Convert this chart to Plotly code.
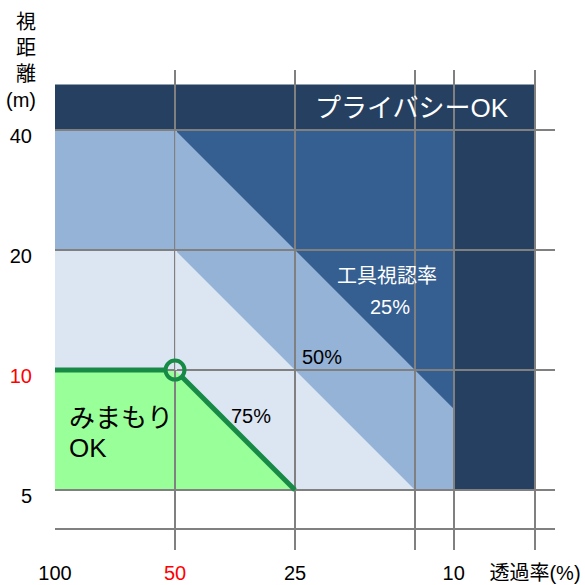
import math
import plotly.graph_objects as go

# 目盛り (透過率 %, 視距離 m)
x_tick_vals = [100, 50, 25, 12.5, 10, 6.25]
x_tick_text = ["100", "<span style='color:#ff0000'>50</span>", "25", "", "10", "透過率(%)"]
y_tick_vals = [40, 20, 10, 5, 4]
y_tick_text = ["40", "20", "<span style='color:#ff0000'>10</span>", "5", ""]

# 工具視認率ごとの境界線 (透過率 %, 視距離 m)
border25_t = [100, 50, 10]
border25_d = [40, 40, 8]
border50_t = [100, 50, 12.5]
border50_d = [20, 20, 5]
border75_t = [100, 50, 25]
border75_d = [10, 10, 5]

# みまもりOK の境界線 (透過率 %, 視距離 m)
watch_t = [100, 50, 25]
watch_d = [10, 10, 5]

# 図の範囲とプライバシーOK の範囲
area_t = [100, 6.25]
area_d = [5, 52]
privacy_t = 10
privacy_d = 40

FONT = "Liberation Sans, Arial, Noto Sans CJK JP, sans-serif"
GRID = "#808080"
NAVY = "#254061"
BLUE = "#355E91"
MID = "#95B3D7"
LIGHT = "#DCE6F2"
GREEN_FILL = "#99FF99"
GREEN_LINE = "#178A45"

X_RANGE = [2.0, 0.7457]
Y_RANGE = [0.5485, 1.7526]
PLOT_W, PLOT_H = 500, 480


def poly(ts, ds):
    pts = [f"{t},{d}" for t, d in zip(ts, ds)]
    return "M " + " L ".join(pts) + " Z"


shapes = []


def region(ts, ds, color, layer="below"):
    shapes.append(dict(type="path", xref="x", yref="y", path=poly(ts, ds),
                       fillcolor=color, line=dict(width=0), layer=layer))


# 視認率の帯 (薄い色から重ねる)
region([area_t[0], privacy_t, privacy_t, area_t[0]],
       [area_d[0], area_d[0], privacy_d, privacy_d], LIGHT)
region(border50_t + [privacy_t, privacy_t, area_t[0]],
       border50_d + [area_d[0], privacy_d, privacy_d], MID)
region(border25_t[1:] + [privacy_t], border25_d[1:] + [privacy_d], BLUE)
# プライバシーOK
region([area_t[0], area_t[1], area_t[1], area_t[0]],
       [privacy_d, privacy_d, area_d[1], area_d[1]], NAVY)
region([privacy_t, area_t[1], area_t[1], privacy_t],
       [area_d[0], area_d[0], privacy_d, privacy_d], NAVY)
# みまもりOK
region(border75_t + [border75_t[0]], border75_d + [border75_d[-1]], GREEN_FILL)

# 50% の縦線は色帯の中だけ細く見せる
shapes.append(dict(type="rect", xref="x", yref="y", xsizemode="pixel", xanchor=watch_t[1],
                   x0=-2, x1=2, y0=20, y1=40, fillcolor=MID, line=dict(width=0), layer="between"))
shapes.append(dict(type="rect", xref="x", yref="y", xsizemode="pixel", xanchor=watch_t[1],
                   x0=-2, x1=2, y0=10, y1=20, fillcolor=LIGHT, line=dict(width=0), layer="between"))
shapes.append(dict(type="line", xref="x", yref="y", x0=watch_t[1], x1=watch_t[1], y0=10, y1=40,
                   line=dict(color="rgba(128,128,128,0.35)", width=1), layer="between"))
for d in (40, 20):
    shapes.append(dict(type="line", xref="x", yref="y", xsizemode="pixel", xanchor=watch_t[1],
                       x0=-3, x1=3, y0=d, y1=d, line=dict(color=GRID, width=2), layer="between"))

# 丸印の周りで線を切る
px_per_decade = PLOT_W / (X_RANGE[0] - X_RANGE[1])
r_px = 10
g = 10 ** (r_px / px_per_decade)
h = 10 ** (r_px / math.sqrt(2) / px_per_decade)
line_x = [watch_t[0], watch_t[1] * g, None, watch_t[1] / h, watch_t[2]]
line_y = [watch_d[0], watch_d[1], None, watch_d[1] / h, watch_d[2]]

fig = go.Figure()
fig.add_trace(go.Scatter(x=line_x, y=line_y, mode="lines", connectgaps=False,
                         line=dict(color=GREEN_LINE, width=5), hoverinfo="skip"))
fig.add_trace(go.Scatter(x=[watch_t[1]], y=[watch_d[1]], mode="markers",
                         marker=dict(symbol="circle-open", size=19, color=GREEN_LINE,
                                     line=dict(width=4, color=GREEN_LINE)), hoverinfo="skip"))


def px(x, y):
    return (x - 55) / PLOT_W, (550 - y) / PLOT_H


annotations = []


def label(text, x, y, size=20, color="#000000", xanchor="center", align="center"):
    ax, ay = px(x, y)
    annotations.append(dict(text=text, x=ax, y=ay, xref="paper", yref="paper",
                            xanchor=xanchor, yanchor="middle", align=align, showarrow=False,
                            font=dict(size=size, color=color, family=FONT)))


label("プライバシーOK", 412, 108, size=26, color="#ffffff")
label("工具視認率", 387, 276, color="#ffffff")
label("25%", 390, 307, color="#ffffff")
label("50%", 322, 357)
label("75%", 251, 416)
label("みまもり", 67, 418, size=26, xanchor="left", align="left")
label("OK", 67, 448, size=26, xanchor="left", align="left")
label("視<br>距<br>離<br>(m)", 38, 61, xanchor="right", align="right")

fig.update_layout(
    width=585, height=585,
    margin=dict(l=55, r=30, t=70, b=35, autoexpand=False),
    paper_bgcolor="#ffffff", plot_bgcolor="#ffffff",
    showlegend=False,
    font=dict(family=FONT, size=20, color="#000000"),
    shapes=shapes, annotations=annotations,
)
fig.update_xaxes(type="log", range=X_RANGE, tickmode="array", tickvals=x_tick_vals,
                 ticktext=x_tick_text, showgrid=True, gridcolor=GRID, gridwidth=2,
                 showline=False, zeroline=False, ticks="", ticklabelstandoff=9,
                 automargin=False,
                 tickfont=dict(size=20, color="#000000", family=FONT), fixedrange=True)
fig.update_yaxes(type="log", range=Y_RANGE, tickmode="array", tickvals=y_tick_vals,
                 ticktext=y_tick_text, showgrid=True, gridcolor=GRID, gridwidth=2,
                 showline=False, zeroline=False, ticks="", ticklabelstandoff=22,
                 ticklabelshift=6, automargin=False,
                 tickfont=dict(size=20, color="#000000", family=FONT), fixedrange=True)

fig.write_html("out.html")
